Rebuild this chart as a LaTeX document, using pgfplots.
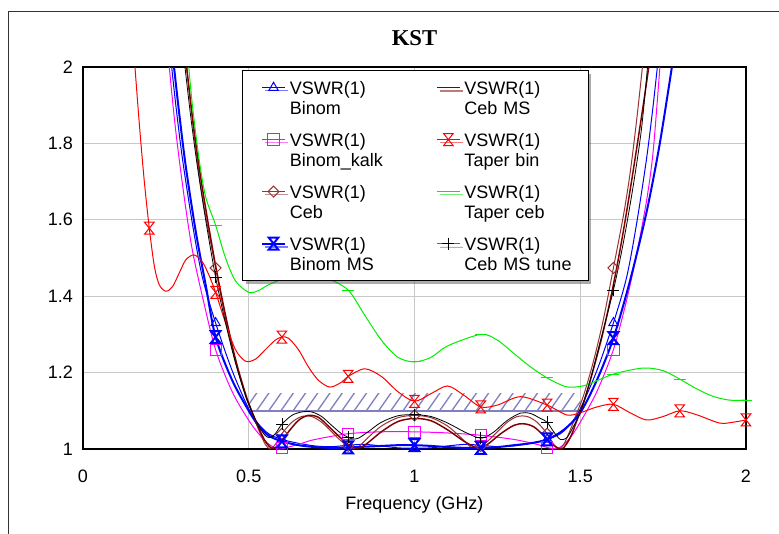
\documentclass[border=0pt]{standalone}
\usepackage{fontspec}
\setmainfont{Liberation Sans}
\newfontfamily\titlefont{Liberation Serif}
\usepackage{pgfplots}
\pgfplotsset{compat=1.18}
\usetikzlibrary{patterns.meta, shadows}

\definecolor{binblue}{HTML}{0000FF}
\definecolor{kalkmag}{HTML}{FF00FF}
\definecolor{cebred}{HTML}{993333}
\definecolor{cebms}{HTML}{800000}
\definecolor{tapred}{HTML}{FF0000}
\definecolor{tapgreen}{HTML}{00EE00}
\definecolor{hatchcol}{HTML}{8080C0}
\definecolor{gridgray}{HTML}{C8C8C8}

% two triangles tip to tip
\pgfdeclareplotmark{hourglass}{%
  \pgfpathmoveto{\pgfqpoint{-0.8\pgfplotmarksize}{\pgfplotmarksize}}%
  \pgfpathlineto{\pgfqpoint{0.8\pgfplotmarksize}{\pgfplotmarksize}}%
  \pgfpathlineto{\pgfqpoint{-0.8\pgfplotmarksize}{-\pgfplotmarksize}}%
  \pgfpathlineto{\pgfqpoint{0.8\pgfplotmarksize}{-\pgfplotmarksize}}%
  \pgfpathclose
  \pgfusepathqstroke}

\pgfplotsset{
  thin line/.style={line width=0.75pt},
  mk/.style={only marks, forget plot, mark options={solid}},
}
% legend text: VSWR(1) with the name hung one line below it
\newcommand\lent[1]{\rlap{\smash{\raisebox{-15pt}{#1}}}VSWR(1)}

\begin{document}
\begin{tikzpicture}[font=\fontsize{13.5}{15}\selectfont]
\path[use as bounding box] (-62.25pt,-63pt) rectangle (522pt,336.75pt);
\draw[black!80, line width=0.75pt] (-55.5pt,-70pt) -- (-55.5pt,327.75pt) -- (530pt,327.75pt);
\begin{axis}[
  width=497.25pt, height=286.5pt, scale only axis,
  xmin=0, xmax=2, ymin=1, ymax=2,
  xtick={0,0.5,1,1.5,2},
  ytick={1,1.2,1.4,1.6,1.8,2},
  major tick length=0pt,
  grid=major,
  grid style={gridgray, line width=0.75pt},
  axis line style={line width=0.9pt},
  tick label style={font=\fontsize{13.5}{15}\selectfont},
  /pgf/number format/assume math mode=true,
  xticklabel style={yshift=-12pt},
  yticklabel style={xshift=-4pt},
  xlabel={Frequency (GHz)},
  xlabel style={at={(axis description cs:0.5,0)}, anchor=center, yshift=-42pt},
  title={KST},
  title style={at={(axis description cs:0.5,1)}, anchor=center, yshift=15.75pt,
    font=\titlefont\bfseries\fontsize{17}{20}\selectfont},
  legend columns=2,
  legend cell align=left,
  legend style={at={(axis description cs:0.2398,0.992)}, anchor=north west,
    draw=black, fill=white, line width=0.75pt,
    inner xsep=14pt, inner ysep=5.75pt,
    drop shadow={shadow xshift=2.5pt, shadow yshift=-2.5pt, fill=black!65},
    nodes={text width=75.75pt, align=left, inner xsep=3pt, inner ysep=2pt,
      text height=9.85pt, text depth=15pt},
    /tikz/every even column/.append style={column sep=31pt},
    row sep=10.15pt},
  legend image post style={yshift=7.4pt},
]

% hatched band
\addplot[draw=none, forget plot, pattern={Lines[angle=55, distance=7.5pt, line width=1pt]}, pattern color=hatchcol]
  coordinates {(0.5,1.1) (1.5,1.1) (1.5,1.145) (0.5,1.145)} -- cycle;
\addplot[hatchcol, line width=1.1pt, forget plot] coordinates {(0.5,1.1) (1.5,1.1)};

% Binom
\addplot[binblue, thin line, smooth, forget plot] coordinates {
  (0.265,2.02) (0.28,1.90) (0.30,1.76) (0.33,1.59) (0.36,1.45) (0.40,1.33)
  (0.45,1.205) (0.50,1.105) (0.53,1.065) (0.56,1.04) (0.60,1.025) (0.65,1.015)
  (0.70,1.008) (0.75,1.006) (0.80,1.01) (0.85,1.012) (0.90,1.008) (0.95,1.003)
  (1.00,1.002) (1.05,1.003) (1.10,1.008) (1.15,1.012) (1.20,1.01) (1.25,1.006)
  (1.30,1.008) (1.35,1.015) (1.40,1.025) (1.44,1.04) (1.47,1.065) (1.50,1.105)
  (1.55,1.205) (1.60,1.33) (1.64,1.45) (1.67,1.59) (1.70,1.76) (1.72,1.90) (1.735,2.02)};
\addplot[binblue, thin line, mk, mark=triangle, mark size=4pt] coordinates {
  (0.4,1.33) (0.6,1.025) (0.8,1.01) (1.0,1.002) (1.2,1.01) (1.4,1.025) (1.6,1.33)};

% Binom_kalk
\addplot[kalkmag, thin line, smooth, forget plot] coordinates {
  (0.258,2.02) (0.275,1.87) (0.29,1.76) (0.31,1.63) (0.33,1.52) (0.36,1.40)
  (0.40,1.26) (0.45,1.15) (0.50,1.075) (0.53,1.04) (0.56,1.013) (0.59,1.0)
  (0.62,1.005) (0.66,1.015) (0.70,1.025) (0.80,1.04) (0.90,1.045) (1.00,1.045)
  (1.10,1.042) (1.20,1.036) (1.30,1.025) (1.37,1.012) (1.41,1.002) (1.44,1.005)
  (1.47,1.03) (1.50,1.07) (1.55,1.15) (1.60,1.26) (1.64,1.39) (1.67,1.51)
  (1.70,1.65) (1.72,1.78) (1.742,2.02)};
\addplot[kalkmag, thin line, mk, mark=square, mark size=4.2pt] coordinates {
  (0.4,1.26) (0.6,1.002) (0.8,1.04) (1.0,1.045) (1.2,1.036) (1.4,1.004) (1.6,1.26)};

% Ceb
\addplot[cebred, thin line, smooth, forget plot] coordinates {
  (0.31,2.02) (0.33,1.86) (0.35,1.72) (0.37,1.61) (0.40,1.474) (0.43,1.34)
  (0.46,1.23) (0.49,1.14) (0.51,1.095) (0.53,1.05) (0.55,1.012) (0.565,1.0)
  (0.58,1.012) (0.60,1.04) (0.63,1.07) (0.66,1.085) (0.69,1.085) (0.72,1.07)
  (0.75,1.045) (0.78,1.02) (0.81,1.002) (0.83,1.005) (0.86,1.03) (0.90,1.06)
  (0.95,1.082) (1.00,1.088) (1.05,1.082) (1.10,1.06) (1.14,1.03) (1.17,1.005)
  (1.19,1.002) (1.22,1.02) (1.25,1.045) (1.28,1.07) (1.31,1.085) (1.34,1.085)
  (1.37,1.07) (1.40,1.04) (1.42,1.012) (1.435,1.0) (1.45,1.012) (1.47,1.05)
  (1.49,1.095) (1.51,1.14) (1.54,1.23) (1.57,1.34) (1.60,1.474) (1.63,1.61)
  (1.65,1.72) (1.67,1.86) (1.69,2.02)};
\addplot[cebred, thin line, mk, mark=square, mark size=2.9pt, mark options={rotate=45}] coordinates {
  (0.4,1.474) (0.6,1.04) (0.8,1.008) (1.0,1.088) (1.2,1.008) (1.4,1.04) (1.6,1.474)};

% Binom MS
\addplot[binblue, line width=1.5pt, smooth, forget plot] coordinates {
  (0.272,2.02) (0.29,1.88) (0.31,1.74) (0.34,1.57) (0.37,1.43) (0.40,1.293)
  (0.45,1.18) (0.50,1.10) (0.53,1.06) (0.56,1.035) (0.60,1.02) (0.65,1.01)
  (0.70,1.005) (0.75,1.003) (0.80,1.004) (0.85,1.006) (0.90,1.008) (0.95,1.01)
  (1.00,1.01) (1.05,1.008) (1.10,1.005) (1.15,1.003) (1.20,1.003) (1.25,1.005)
  (1.30,1.01) (1.35,1.015) (1.40,1.025) (1.45,1.05) (1.50,1.095) (1.55,1.18)
  (1.60,1.29) (1.65,1.44) (1.70,1.62) (1.74,1.80) (1.78,2.02)};
\addplot[binblue, line width=1.5pt, mk, mark=hourglass, mark size=4.5pt] coordinates {
  (0.4,1.293) (0.6,1.02) (0.8,1.004) (1.0,1.01) (1.2,1.003) (1.4,1.025) (1.6,1.29)};

% Ceb MS
\addplot[cebms, line width=1.1pt, smooth, forget plot] coordinates {
  (0.31,2.02) (0.33,1.87) (0.35,1.74) (0.37,1.63) (0.40,1.48) (0.43,1.35)
  (0.46,1.235) (0.49,1.145) (0.51,1.097) (0.53,1.055) (0.55,1.02) (0.57,1.002)
  (0.59,1.01) (0.62,1.045) (0.65,1.075) (0.68,1.088) (0.71,1.083) (0.74,1.06)
  (0.77,1.035) (0.80,1.012) (0.825,1.002) (0.85,1.01) (0.90,1.045) (0.95,1.072)
  (1.00,1.08) (1.05,1.074) (1.10,1.05) (1.15,1.02) (1.19,1.003) (1.22,1.012)
  (1.26,1.04) (1.30,1.062) (1.33,1.066) (1.36,1.058) (1.39,1.035) (1.42,1.01)
  (1.445,1.0) (1.47,1.03) (1.49,1.075) (1.51,1.12) (1.54,1.21) (1.57,1.31)
  (1.60,1.43) (1.63,1.57) (1.66,1.73) (1.69,1.90) (1.71,2.02)};

% Taper bin
\addplot[tapred, thin line, smooth, forget plot] coordinates {
  (0.155,2.02) (0.17,1.85) (0.185,1.70) (0.20,1.578) (0.215,1.48) (0.23,1.43)
  (0.25,1.413) (0.27,1.425) (0.29,1.46) (0.31,1.495) (0.335,1.508) (0.36,1.49)
  (0.38,1.455) (0.40,1.41) (0.43,1.33) (0.46,1.26) (0.49,1.23) (0.52,1.235)
  (0.55,1.26) (0.58,1.285) (0.60,1.293) (0.62,1.29) (0.65,1.26) (0.68,1.215)
  (0.71,1.18) (0.745,1.162) (0.78,1.175) (0.80,1.19) (0.85,1.21) (0.90,1.19)
  (0.95,1.15) (1.00,1.125) (1.05,1.145) (1.10,1.165) (1.15,1.14) (1.20,1.11)
  (1.25,1.115) (1.32,1.137) (1.40,1.115) (1.46,1.089) (1.50,1.095) (1.55,1.11)
  (1.60,1.117) (1.65,1.095) (1.70,1.076) (1.75,1.085) (1.80,1.10) (1.85,1.09)
  (1.92,1.068) (1.96,1.07) (2.00,1.076)};
\addplot[tapred, thin line, mk, mark=hourglass, mark size=4.5pt] coordinates {
  (0.2,1.578) (0.4,1.41) (0.6,1.293) (0.8,1.19) (1.0,1.125) (1.2,1.11)
  (1.4,1.115) (1.6,1.117) (1.8,1.10) (2.0,1.076)};

% Taper ceb
\addplot[tapgreen, thin line, smooth, forget plot] coordinates {
  (0.317,2.02) (0.33,1.90) (0.35,1.76) (0.37,1.66) (0.40,1.586) (0.43,1.50)
  (0.46,1.44) (0.50,1.41) (0.53,1.415) (0.56,1.43) (0.62,1.45) (0.68,1.455)
  (0.74,1.445) (0.80,1.416) (0.85,1.35) (0.90,1.285) (0.95,1.24) (1.00,1.228)
  (1.05,1.24) (1.10,1.27) (1.20,1.30) (1.25,1.285) (1.30,1.25) (1.35,1.215)
  (1.40,1.186) (1.45,1.165) (1.48,1.162) (1.52,1.168) (1.60,1.196) (1.69,1.212)
  (1.75,1.205) (1.80,1.183) (1.85,1.158) (1.90,1.138) (1.95,1.128) (2.00,1.128)};
\addplot[tapgreen, thin line, mk, mark=-, mark size=4.5pt] coordinates {
  (0.4,1.586) (0.6,1.445) (0.8,1.416) (1.0,1.228) (1.2,1.30) (1.4,1.186)
  (1.6,1.196) (1.8,1.183) (2.0,1.128)};

% Ceb MS tune
\addplot[black, line width=0.6pt, smooth, forget plot] coordinates {
  (0.305,2.02) (0.325,1.87) (0.345,1.74) (0.37,1.60) (0.40,1.45) (0.43,1.33)
  (0.46,1.225) (0.49,1.14) (0.51,1.097) (0.53,1.06) (0.55,1.035) (0.565,1.03)
  (0.58,1.04) (0.60,1.065) (0.63,1.088) (0.66,1.097) (0.69,1.097) (0.72,1.085)
  (0.75,1.062) (0.78,1.04) (0.81,1.027) (0.83,1.028) (0.86,1.045) (0.90,1.07)
  (0.95,1.087) (1.00,1.09) (1.05,1.085) (1.10,1.068) (1.15,1.045) (1.19,1.03)
  (1.21,1.03) (1.24,1.045) (1.28,1.075) (1.32,1.094) (1.35,1.093) (1.38,1.08)
  (1.40,1.07) (1.42,1.045) (1.44,1.025) (1.46,1.03) (1.48,1.06) (1.50,1.097)
  (1.53,1.18) (1.56,1.28) (1.60,1.416) (1.63,1.54) (1.66,1.69) (1.685,1.84) (1.705,2.02)};
\addplot[black, line width=0.6pt, mk, mark=+, mark size=4.5pt] coordinates {
  (0.4,1.45) (0.6,1.065) (0.8,1.031) (1.0,1.09) (1.2,1.03) (1.4,1.07) (1.6,1.416)};

% legend (rows: Binom/Ceb MS, Binom_kalk/Taper bin, Ceb/Taper ceb, Binom MS/Ceb MS tune)
\addlegendimage{binblue, thin line, mark=triangle, mark size=4pt, mark options={solid}}
\addlegendentry{\lent{Binom}}
\addlegendimage{cebms, line width=1.1pt}
\addlegendentry{\lent{Ceb MS}}
\addlegendimage{kalkmag, thin line, mark=square, mark size=4.2pt}
\addlegendentry{\lent{Binom\_kalk}}
\addlegendimage{tapred, thin line, mark=hourglass, mark size=4.5pt}
\addlegendentry{\lent{Taper bin}}
\addlegendimage{cebred, thin line, mark=square, mark size=2.9pt, mark options={rotate=45}}
\addlegendentry{\lent{Ceb}}
\addlegendimage{tapgreen, thin line, mark=-, mark size=4.5pt}
\addlegendentry{\lent{Taper ceb}}
\addlegendimage{binblue, line width=1.5pt, mark=hourglass, mark size=4.5pt}
\addlegendentry{\lent{Binom MS}}
\addlegendimage{black!60, line width=0.6pt, mark=+, mark size=4.5pt, mark options={black}}
\addlegendentry{\lent{Ceb MS tune}}

\end{axis}
\end{tikzpicture}
\end{document}
